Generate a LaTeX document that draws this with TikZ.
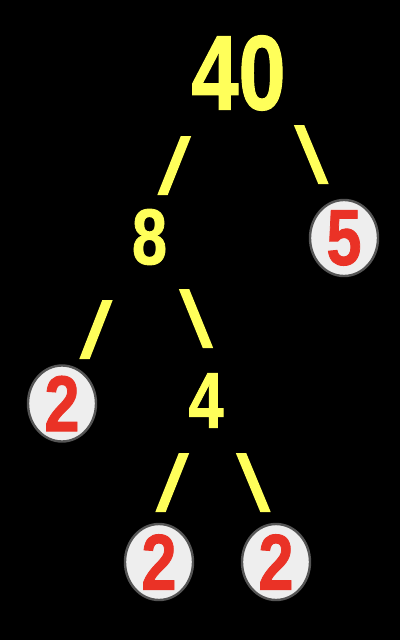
\documentclass[tikz,border=0pt]{standalone}
\usepackage{fontspec}
\setmainfont{Liberation Sans}
\newfontfamily\heavyfont{Liberation Sans Bold}[FakeBold=1.2]
\usetikzlibrary{shapes.geometric}
\definecolor{ylw}{RGB}{255,255,90}
\definecolor{rd}{RGB}{234,50,38}
\definecolor{leaffill}{RGB}{238,238,238}
\definecolor{leafline}{RGB}{85,85,85}
\newcommand\slashbar[2]{\fill[ylw] ([xshift=-5.2pt]#1) -- ([xshift=5.2pt]#1) -- ([xshift=5.2pt]#2) -- ([xshift=-5.2pt]#2) -- cycle;}
\begin{document}
\begin{tikzpicture}[x=1pt,y=-1pt,
  bigtxt/.style={inner sep=0pt,text=ylw,font=\fontsize{106}{106}\selectfont\heavyfont,xscale=0.8},
  midtxt/.style={inner sep=0pt,text=ylw,font=\fontsize{79}{79}\selectfont\heavyfont,xscale=0.8},
  leaf/.style={ellipse,draw=leafline,line width=2.4pt,fill=leaffill,minimum width=68pt,minimum height=76pt,inner sep=0pt},
  leaftxt/.style={inner sep=0pt,text=rd,font=\fontsize{79}{79}\selectfont\heavyfont,xscale=0.8}]
\fill[black] (0,0) rectangle (400,640);
\useasboundingbox (0,0) rectangle (400,640);
% nodes
\node[bigtxt] (n40) at (238.5,73) {40};
\node[midtxt] (n8) at (149.5,237) {8};
\node[leaf] (n5) at (344,238) {};
\node[leaftxt] at (n5) {5};
\node[leaf] (n2a) at (62,403.5) {};
\node[leaftxt] at (n2a) {2};
\node[midtxt] (n4) at (206,400.5) {4};
\node[leaf] (n2b) at (159,562) {};
\node[leaftxt] at (n2b) {2};
\node[leaf] (n2c) at (276,562) {};
\node[leaftxt] at (n2c) {2};
% connector ends
\coordinate (a1) at (186,136);   \coordinate (b1) at (162.5,195);
\coordinate (a2) at (299,125);   \coordinate (b2) at (323.5,184);
\coordinate (a3) at (107.5,300); \coordinate (b3) at (84.5,359);
\coordinate (a4) at (184,289);   \coordinate (b4) at (208,348);
\coordinate (a5) at (184,453);   \coordinate (b5) at (160.5,512);
\coordinate (a6) at (241,453);   \coordinate (b6) at (265.5,512);
\slashbar{a1}{b1}
\slashbar{a2}{b2}
\slashbar{a3}{b3}
\slashbar{a4}{b4}
\slashbar{a5}{b5}
\slashbar{a6}{b6}
\end{tikzpicture}
\end{document}
